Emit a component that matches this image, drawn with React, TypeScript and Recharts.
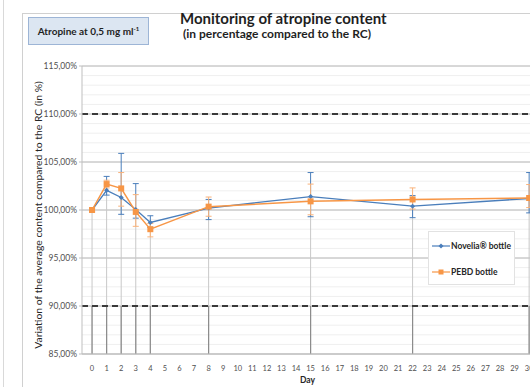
import React from 'react';
import { LineChart, Line, XAxis, YAxis, CartesianGrid, ReferenceLine, ErrorBar } from 'recharts';

const DAYS = [0, 1, 2, 3, 4, 8, 15, 22, 30];
const NOVELIA = [100.0, 102.05, 101.3, 100.05, 98.7, 100.2, 101.4, 100.4, 101.2];
const NOVELIA_ERR: [number, number][] = [
  [0.2, 0.2], [0.5, 1.45], [1.75, 4.6], [0.9, 2.7], [0.5, 0.7], [1.2, 0.9], [2.1, 2.5], [1.2, 1.1], [1.5, 2.7],
];
const PEBD = [100.0, 102.7, 102.25, 99.8, 98.0, 100.35, 100.9, 101.1, 101.25];
const PEBD_ERR: [number, number][] = [
  [0.2, 0.2], [0.4, 0.4], [1.85, 1.65], [1.5, 1.8], [0.8, 0.6], [1.0, 1.0], [1.4, 1.8], [1.0, 1.2], [1.0, 1.4],
];
const Y_TICKS = [85, 90, 95, 100, 105, 110, 115];
const X_TICKS = Array.from({ length: 31 }, (_, i) => i);
const MINOR_Y = Array.from({ length: 29 }, (_, i) => 86 + i).filter((v) => v % 5 !== 0);
const LIMITS = [90, 110];

const BLUE = '#4a7ebb';
const ORANGE = '#f79646';
const FONT = 'Lato, "Open Sans", sans-serif';

const data = DAYS.map((d, i) => ({
  day: d,
  novelia: NOVELIA[i],
  noveliaErr: NOVELIA_ERR[i],
  pebd: PEBD[i],
  pebdErr: PEBD_ERR[i],
}));

const fmt = (v: number) => v.toFixed(2).replace('.', ',') + '%';

const Diamond = (props: any) => {
  const { cx, cy } = props;
  if (cx == null || cy == null) return null;
  return <path d={`M${cx},${cy - 2.5}L${cx + 2.5},${cy}L${cx},${cy + 2.5}L${cx - 2.5},${cy}Z`} fill={BLUE} />;
};

const Square = (props: any) => {
  const { cx, cy } = props;
  if (cx == null || cy == null) return null;
  return <rect x={cx - 3} y={cy - 3} width={6} height={6} fill={ORANGE} />;
};

const LegendBox = () => (
  <div
    style={{
      position: 'absolute',
      left: 428,
      top: 231,
      width: 87,
      height: 54,
      background: '#fff',
      border: '1px solid #e2e2e2',
      fontFamily: FONT,
      fontSize: 8.5,
      fontWeight: 700,
      color: '#262626',
      boxSizing: 'border-box',
      paddingLeft: 3,
    }}
  >
    <div style={{ display: 'flex', alignItems: 'center', height: 27 }}>
      <svg width={18} height={8}>
        <line x1={0} y1={4} x2={18} y2={4} stroke={BLUE} strokeWidth={1.2} />
        <path d="M9,1.5L11.5,4L9,6.5L6.5,4Z" fill={BLUE} />
      </svg>
      <span style={{ marginLeft: 1 }}>Novelia® bottle</span>
    </div>
    <div style={{ display: 'flex', alignItems: 'center', height: 25 }}>
      <svg width={18} height={8}>
        <line x1={0} y1={4} x2={18} y2={4} stroke={ORANGE} strokeWidth={1.2} />
        <rect x={6.5} y={1.5} width={5} height={5} fill={ORANGE} />
      </svg>
      <span style={{ marginLeft: 1 }}>PEBD bottle</span>
    </div>
  </div>
);

export default function App() {
  return (
    <div style={{ position: 'absolute', left: 0, top: 0, width: 530, height: 387, overflow: 'hidden', background: '#fff' }}>
      <div style={{ position: 'absolute', left: 3, top: 0, width: 1, height: 387, background: '#d9d9d9' }} />
      <div style={{ position: 'absolute', left: 22, top: 13, width: 600, height: 500, border: '1px solid #d0d0d0' }} />
      <div
        style={{
          position: 'absolute',
          left: 28,
          top: 17,
          width: 121,
          height: 28,
          background: '#dce6f2',
          border: '1px solid #9db5d6',
          boxSizing: 'border-box',
          fontFamily: FONT,
          fontSize: 10,
          fontWeight: 700,
          color: '#1f1f1f',
          display: 'flex',
          alignItems: 'center',
          justifyContent: 'center',
        }}
      >
        <span>
          Atropine at 0,5 mg ml<sup style={{ fontSize: 6 }}>-1</sup>
        </span>
      </div>
      <div style={{ position: 'absolute', left: 180, top: 9, fontFamily: FONT, fontSize: 15, fontWeight: 700, color: '#1f1f1f', whiteSpace: 'nowrap' }}>
        Monitoring of atropine content
      </div>
      <div style={{ position: 'absolute', left: 183, top: 26, fontFamily: FONT, fontSize: 12, fontWeight: 700, color: '#1f1f1f', whiteSpace: 'nowrap' }}>
        (in percentage compared to the RC)
      </div>
      <div
        style={{
          position: 'absolute',
          left: 38,
          top: 215,
          transform: 'translate(-50%, -50%) rotate(-90deg)',
          fontFamily: FONT,
          fontSize: 10.4,
          color: '#262626',
          whiteSpace: 'nowrap',
        }}
      >
        Variation of the average content compared to the RC (in %)
      </div>
      <div style={{ position: 'absolute', left: 0, top: 0 }}>
        <LineChart width={560} height={387} data={data} margin={{ top: 66, right: 9, bottom: 13, left: 0 }}>
          <CartesianGrid vertical={false} stroke="#b0b0b0" horizontalValues={Y_TICKS} />
          {MINOR_Y.map((v) => (
            <ReferenceLine key={`m${v}`} y={v} stroke="#efefef" strokeWidth={1} />
          ))}
          {data.map((d) => (
            <ReferenceLine
              key={`d${d.day}`}
              segment={[{ x: d.day, y: 85 }, { x: d.day, y: Math.max(d.novelia, d.pebd) }]}
              stroke="#c8c8c8"
              strokeWidth={1}
            />
          ))}
          {data.map((d) => (
            <ReferenceLine
              key={`k${d.day}`}
              segment={[{ x: d.day, y: 85 }, { x: d.day, y: 90 }]}
              stroke="#8c8c8c"
              strokeWidth={1.2}
            />
          ))}
          {LIMITS.map((v) => (
            <ReferenceLine key={`l${v}`} y={v} stroke="#3a3a3a" strokeWidth={2} strokeDasharray="6 4" />
          ))}
          <XAxis
            dataKey="day"
            type="number"
            domain={[-0.69, 31.5]}
            ticks={X_TICKS}
            interval={0}
            allowDataOverflow
            height={20}
            tick={{ fontSize: 7.5, fill: '#505050', fontFamily: FONT }}
            tickLine={false}
            axisLine={{ stroke: '#bfbfbf' }}
            tickMargin={6}
            label={{ value: 'Day', position: 'insideBottom', offset: -9, fontSize: 8.5, fontWeight: 700, fill: '#262626', fontFamily: FONT, dx: -9 }}
          />
          <YAxis
            type="number"
            domain={[85, 115]}
            ticks={Y_TICKS}
            width={82}
            allowDataOverflow
            tickFormatter={fmt}
            tick={{ fontSize: 8.5, fill: '#505050', fontFamily: FONT }}
            tickLine={{ stroke: '#bfbfbf' }}
            tickSize={3}
            tickMargin={2}
            axisLine={{ stroke: '#bfbfbf' }}
          />
          <Line
            dataKey="novelia"
            name="Novelia® bottle"
            stroke={BLUE}
            strokeWidth={1.3}
            dot={<Diamond />}
            activeDot={false}
            isAnimationActive={false}
          >
            <ErrorBar dataKey="noveliaErr" width={3} stroke={BLUE} strokeWidth={1} direction="y" />
          </Line>
          <Line
            dataKey="pebd"
            name="PEBD bottle"
            stroke={ORANGE}
            strokeWidth={1.5}
            dot={<Square />}
            activeDot={false}
            isAnimationActive={false}
          >
            <ErrorBar dataKey="pebdErr" width={3} stroke="#f9b27a" strokeWidth={1} direction="y" />
          </Line>
        </LineChart>
      </div>
      <LegendBox />
    </div>
  );
}
